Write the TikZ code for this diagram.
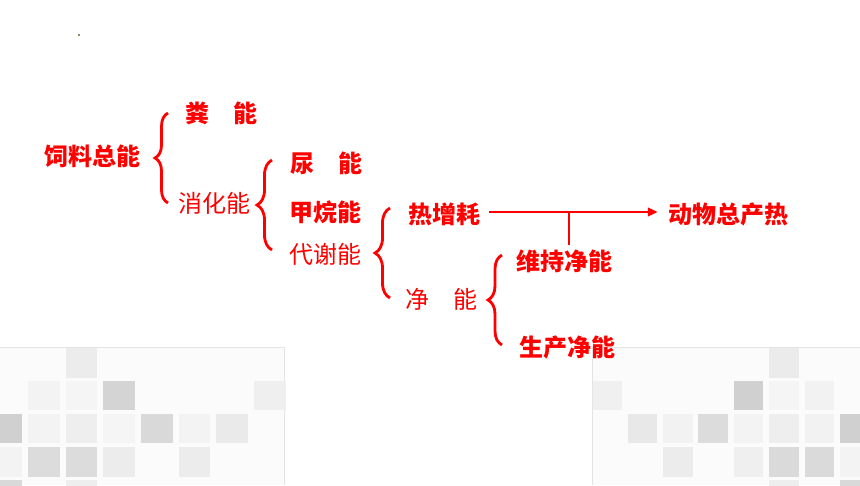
\documentclass[tikz,border=0pt]{standalone}
\usepackage{fontspec}
\setmainfont{Noto Sans CJK SC}
\usetikzlibrary{decorations.pathreplacing,arrows.meta}
\definecolor{rd}{RGB}{255,0,0}
\definecolor{pbg}{HTML}{FBFBFB}
\definecolor{pbd}{HTML}{E4E4E4}
\begin{document}
\begin{tikzpicture}[x=1pt,y=-1pt,
  lbl/.style={text=rd,font=\fontsize{24}{24}\selectfont\bfseries,inner sep=0pt,anchor=center},
  lbn/.style={text=rd,font=\fontsize{24}{24}\selectfont,inner sep=0pt,anchor=center},
  brc/.style={draw=rd,line width=2.8pt,decorate,decoration={brace,amplitude=#1}},
  conn/.style={draw=rd,line width=2.8pt},
  sq/.style={fill=#1,draw=none}]
\fill[white] (0,0) rectangle (860,485);
\useasboundingbox (0,0) rectangle (860,485);
% decorative panels
\fill[pbg] (0,347) rectangle (285,485);
\draw[pbd,line width=1.2pt] (0,347.5) -- (284.5,347.5) -- (284.5,485);
\fill[pbg] (592,347) rectangle (860,485);
\draw[pbd,line width=1.2pt] (592.5,485) -- (592.5,347.5) -- (860,347.5);
% left squares: {x/y/colour}
\foreach \x/\y/\c in {
  65.5/348/ECECEC,
  28/380.5/F3F3F3, 65.5/380.5/F5F5F5, 103/380.5/D4D4D4, 254/380.5/EFEFEF,
  -9.5/413.5/D0D0D0, 28/413.5/F3F3F3, 65.5/413.5/EEEEEE, 103/413.5/F5F5F5, 141/413.5/D9D9D9, 178.5/413.5/F3F3F3, 216/413.5/EAEAEA,
  -9.5/447/F3F3F3, 28/447/DCDCDC, 65.5/447/DCDCDC, 103/447/ECECEC, 178.5/447/ECECEC,
  -9.5/480/D9D9D9, 65.5/480/EEEEEE}
  {\definecolor{sqc}{HTML}{\c}\fill[sqc] (\x,\y) rectangle ++(31.5,29.5);}
% right squares
\foreach \x/\y/\c in {
  769/348/EBEBEB,
  592.5/380.5/F0F0F0, 733.5/380.5/D0D0D0, 769/380.5/F5F5F5, 804.5/380.5/F2F2F2,
  627.5/413.5/E8E8E8, 663/413.5/F2F2F2, 698/413.5/DCDCDC, 733.5/413.5/F3F3F3, 769/413.5/EEEEEE, 804.5/413.5/F2F2F2, 840/413.5/D0D0D0,
  663/447/ECECEC, 733.5/447/EFEFEF, 769/447/DADADA, 804.5/447/DADADA, 840/447/F3F3F3,
  769/480/EEEEEE, 840/480/D9D9D9}
  {\definecolor{sqc}{HTML}{\c}\fill[sqc] (\x,\y) rectangle ++(29.5,29.5);}
% tiny dot
\fill[gray!70!olive] (78,34) rectangle ++(2,2);
% labels
\node[lbl] (sl) at (93,156) {饲料总能};
\node[lbl] (fn) at (221,113) {粪　能};
\node[lbn] (xh) at (214,203) {消化能};
\node[lbl] (nn) at (326,163) {尿　能};
\node[lbl] (jw) at (325,212) {甲烷能};
\node[lbn] (dx) at (325,254) {代谢能};
\node[lbl] (rz) at (444,214) {热增耗};
\node[lbl] (dw) at (728,214) {动物总产热};
\node[lbl] (wc) at (564,261) {维持净能};
\node[lbn] (jn) at (441,299) {净　能};
\node[lbl] (sc) at (567,347) {生产净能};
% braces
\draw[brc=13pt] (168,203) -- (168,113);
\draw[brc=15pt] (272,250) -- (272,160);
\draw[brc=15pt] (390,298) -- (390,208);
\draw[brc=14pt] (502,345) -- (502,255);
% arrow
\coordinate (a0) at ([xshift=9pt]rz.east |- 0,212);
\coordinate (a1) at ([xshift=-10pt]dw.west |- 0,212);
\coordinate (j) at (569,212);
\draw[conn,-{Triangle[length=10pt,width=8.5pt]}] (a0) -- (a1);
\draw[conn] (j) -- (j |- 0,245);
\end{tikzpicture}
\end{document}
